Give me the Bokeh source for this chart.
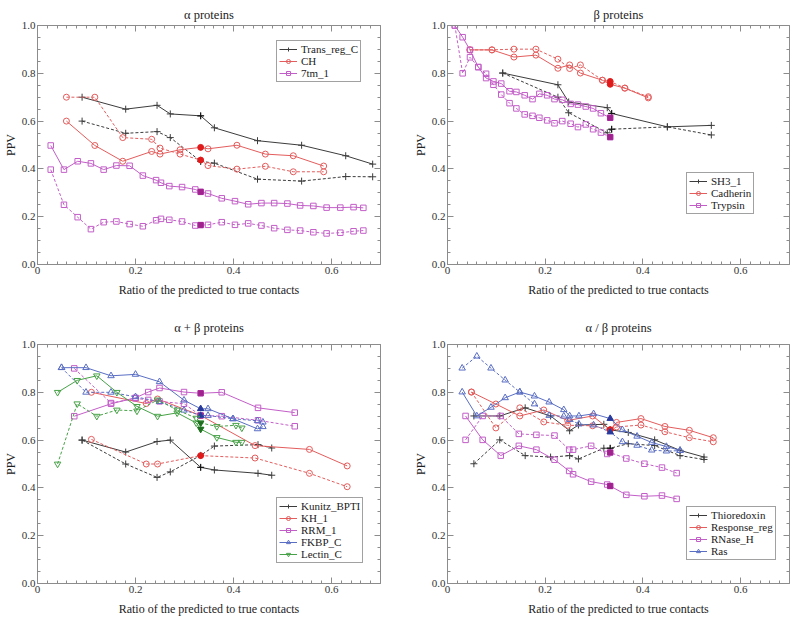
from bokeh.plotting import figure
from bokeh.layouts import column, row
from bokeh.models import Range1d, FixedTicker, LinearAxis, Legend, LegendItem, PrintfTickFormatter
from bokeh.embed import file_html
from bokeh.resources import INLINE

# ---------------- data ----------------
# alpha proteins
trans_x = [0.091, 0.180, 0.244, 0.271, 0.333, 0.361, 0.449, 0.539, 0.629, 0.684]
trans_solid = [0.700, 0.650, 0.666, 0.630, 0.622, 0.572, 0.518, 0.499, 0.455, 0.420]
trans_dash = [0.600, 0.549, 0.556, 0.531, 0.432, 0.424, 0.357, 0.349, 0.368, 0.367]

ch_x = [0.059, 0.117, 0.174, 0.233, 0.250, 0.291, 0.333, 0.348, 0.407, 0.465, 0.522, 0.584]
ch_solid = [0.600, 0.498, 0.432, 0.473, 0.462, 0.480, 0.490, 0.484, 0.499, 0.462, 0.455, 0.412]
ch_dash = [0.700, 0.700, 0.531, 0.524, 0.487, 0.462, 0.437, 0.414, 0.399, 0.411, 0.388, 0.388]

tm7_x = [0.027, 0.054, 0.082, 0.109, 0.135, 0.161, 0.188, 0.215, 0.242, 0.252, 0.269, 0.295, 0.322, 0.333,
         0.348, 0.376, 0.403, 0.430, 0.457, 0.483, 0.510, 0.536, 0.563, 0.590, 0.618, 0.645, 0.665]
tm7_solid = [0.498, 0.397, 0.432, 0.423, 0.397, 0.414, 0.413, 0.372, 0.353, 0.342, 0.328, 0.324, 0.314, 0.304,
             0.297, 0.277, 0.265, 0.252, 0.257, 0.257, 0.255, 0.247, 0.245, 0.238, 0.238, 0.240, 0.237]
tm7_dash = [0.397, 0.250, 0.198, 0.148, 0.177, 0.180, 0.169, 0.160, 0.185, 0.191, 0.187, 0.180, 0.163, 0.165,
            0.166, 0.177, 0.166, 0.172, 0.163, 0.152, 0.145, 0.142, 0.135, 0.130, 0.133, 0.139, 0.142]

# beta proteins
sh3_x = [0.113, 0.226, 0.248, 0.327, 0.336, 0.450, 0.540]
sh3_solid = [0.801, 0.752, 0.680, 0.656, 0.632, 0.576, 0.582]
sh3_dash = [0.801, 0.700, 0.635, 0.551, 0.566, 0.576, 0.542]

cad_x = [0.046, 0.091, 0.136, 0.181, 0.226, 0.250, 0.272, 0.317, 0.333, 0.363, 0.411]
cad_solid = [0.898, 0.898, 0.868, 0.876, 0.821, 0.835, 0.801, 0.771, 0.754, 0.738, 0.697]
cad_dash = [0.898, 0.898, 0.901, 0.901, 0.859, 0.820, 0.835, 0.771, 0.766, 0.738, 0.702]

tryp_x = [0.015, 0.031, 0.046, 0.063, 0.079, 0.094, 0.110, 0.127, 0.141, 0.158, 0.174, 0.188, 0.204, 0.219,
          0.235, 0.252, 0.267, 0.283, 0.298, 0.314, 0.333]
tryp_solid = [1.000, 0.951, 0.898, 0.826, 0.780, 0.766, 0.757, 0.725, 0.722, 0.708, 0.692, 0.714, 0.708, 0.692,
              0.689, 0.672, 0.669, 0.661, 0.653, 0.633, 0.614]
tryp_dash = [1.000, 0.800, 0.867, 0.826, 0.798, 0.752, 0.711, 0.675, 0.653, 0.628, 0.622, 0.614, 0.603, 0.591,
             0.600, 0.589, 0.575, 0.586, 0.566, 0.552, 0.533]

# alpha + beta proteins
kun_x = [0.091, 0.180, 0.244, 0.271, 0.333, 0.361, 0.450, 0.478]
kun_solid = [0.600, 0.550, 0.594, 0.600, 0.486, 0.475, 0.461, 0.453]
kun_dash = [0.600, 0.500, 0.444, 0.467, 0.536, 0.575, 0.581, 0.567]

kh_x = [0.110, 0.222, 0.245, 0.333, 0.444, 0.555, 0.632]
kh_solid = [0.800, 0.753, 0.772, 0.703, 0.577, 0.561, 0.492]
kh_dash = [0.603, 0.500, 0.500, 0.535, 0.525, 0.461, 0.405]

rrm_x = [0.075, 0.150, 0.200, 0.226, 0.249, 0.299, 0.333, 0.376, 0.450, 0.525]
rrm_solid = [0.700, 0.752, 0.777, 0.801, 0.818, 0.801, 0.796, 0.800, 0.735, 0.715]
rrm_dash = [0.900, 0.755, 0.775, 0.768, 0.762, 0.752, 0.703, 0.700, 0.683, 0.658]

fkbp_x = [0.049, 0.099, 0.150, 0.200, 0.249, 0.299, 0.333, 0.348, 0.399, 0.449, 0.460]
fkbp_solid = [0.903, 0.903, 0.869, 0.875, 0.844, 0.767, 0.731, 0.731, 0.689, 0.647, 0.656]
fkbp_dash = [0.903, 0.800, 0.800, 0.781, 0.761, 0.725, 0.703, 0.703, 0.689, 0.681, 0.675]

lec_x = [0.041, 0.081, 0.121, 0.162, 0.203, 0.245, 0.285, 0.324, 0.333, 0.366, 0.405, 0.417]
lec_solid = [0.800, 0.850, 0.869, 0.800, 0.741, 0.700, 0.714, 0.672, 0.646, 0.611, 0.591, 0.591]
lec_dash = [0.500, 0.752, 0.700, 0.726, 0.722, 0.768, 0.726, 0.692, 0.672, 0.657, 0.662, 0.651]

# alpha / beta proteins
thio_x = [0.054, 0.107, 0.159, 0.211, 0.250, 0.268, 0.320, 0.333, 0.370, 0.424, 0.476, 0.525]
thio_solid = [0.701, 0.701, 0.735, 0.701, 0.639, 0.663, 0.666, 0.643, 0.632, 0.601, 0.557, 0.529]
thio_dash = [0.501, 0.601, 0.535, 0.529, 0.535, 0.521, 0.566, 0.566, 0.585, 0.577, 0.535, 0.519]

resp_x = [0.049, 0.099, 0.148, 0.197, 0.246, 0.297, 0.333, 0.346, 0.396, 0.445, 0.495, 0.544]
resp_solid = [0.801, 0.751, 0.701, 0.726, 0.682, 0.701, 0.643, 0.674, 0.690, 0.657, 0.641, 0.610]
resp_dash = [0.801, 0.651, 0.735, 0.676, 0.662, 0.660, 0.643, 0.655, 0.663, 0.635, 0.610, 0.593]

rnase_x = [0.037, 0.072, 0.109, 0.146, 0.182, 0.219, 0.249, 0.257, 0.294, 0.327, 0.333, 0.366, 0.403, 0.439, 0.469]
rnase_solid = [0.701, 0.601, 0.535, 0.576, 0.560, 0.518, 0.471, 0.457, 0.426, 0.414, 0.408, 0.371, 0.365, 0.368, 0.354]
rnase_dash = [0.601, 0.701, 0.701, 0.626, 0.622, 0.619, 0.560, 0.560, 0.576, 0.542, 0.548, 0.523, 0.501, 0.485, 0.462]

ras_x = [0.030, 0.060, 0.089, 0.118, 0.148, 0.178, 0.208, 0.238, 0.250, 0.269, 0.299, 0.333, 0.358, 0.388, 0.418,
         0.448, 0.476]
ras_solid = [0.801, 0.701, 0.737, 0.777, 0.801, 0.784, 0.759, 0.727, 0.701, 0.701, 0.710, 0.690, 0.643, 0.616, 0.590,
             0.573, 0.557]
ras_dash = [0.901, 0.951, 0.901, 0.851, 0.801, 0.751, 0.703, 0.700, 0.686, 0.667, 0.663, 0.634, 0.593, 0.578, 0.558,
            0.554, 0.556]

x_major = [0, 0.2, 0.4, 0.6]
x_labels = {0: "0", 0.2: "0.2", 0.4: "0.4", 0.6: "0.6"}
y_major = [0.0, 0.2, 0.4, 0.6, 0.8, 1.0]
x_title = "Ratio of the predicted to true contacts"
y_title = "PPV"

# ---------------- style ----------------
FONT = "Liberation Serif"
LINE = {"black": "#3c3c3c", "red": "#e45c5c", "magenta": "#c35ec8", "blue": "#5a6ec4", "green": "#47a247"}
FILL = {"black": "#111111", "red": "#e01a1a", "magenta": "#a0228e", "blue": "#28399c", "green": "#1f6e1f"}
MSIZE = {"cross": 7, "circle": 6, "square": 5.5, "triangle": 6.5, "inverted_triangle": 6.5}
AXC = "#8c8c8c"

x_minor = [round(i * 0.02, 2) for i in range(36)]
y_minor = [round(i * 0.05, 2) for i in range(21)]


def style_axis(ax, show_labels, label_gap=1):
    ax.axis_line_color = AXC
    ax.major_tick_line_color = AXC
    ax.minor_tick_line_color = AXC
    ax.major_tick_in = 6
    ax.major_tick_out = 0
    ax.minor_tick_in = 3
    ax.minor_tick_out = 0
    ax.major_label_text_font = FONT
    ax.major_label_text_color = "#333333"
    ax.axis_label_text_font = FONT
    ax.axis_label_text_font_style = "normal"
    ax.axis_label_text_color = "#222222"
    ax.axis_label_text_font_size = "12px"
    if show_labels:
        ax.major_label_text_font_size = "11px"
        ax.major_label_standoff = 2
        ax.axis_label_standoff = label_gap
    else:
        ax.major_label_text_font_size = "1px"
        ax.major_label_text_color = None
        ax.major_label_standoff = 0


def make_panel(title, series, fw, fh, bl, br, bt, bb, title_gap, legend_xy):
    p = figure(frame_width=fw, frame_height=fh, x_range=Range1d(0, 0.7), y_range=Range1d(0, 1.0),
               output_backend="svg", toolbar_location=None,
               min_border_left=bl, min_border_right=br, min_border_top=bt, min_border_bottom=bb)
    p.outline_line_color = None
    p.xgrid.visible = False
    p.ygrid.visible = False
    p.title.text = title
    p.title.align = "center"
    p.title.text_font = FONT
    p.title.text_font_style = "normal"
    p.title.text_font_size = "12.5px"
    p.title.text_color = "#222222"
    p.title.standoff = title_gap

    p.xaxis.ticker = FixedTicker(ticks=x_major, minor_ticks=x_minor)
    p.xaxis.major_label_overrides = x_labels
    p.xaxis.axis_label = x_title
    p.yaxis.ticker = FixedTicker(ticks=y_major, minor_ticks=y_minor)
    p.yaxis.formatter = PrintfTickFormatter(format="%.1f")
    p.yaxis.axis_label = y_title
    style_axis(p.xaxis[0], True, 6)
    style_axis(p.yaxis[0], True, 1)

    top = LinearAxis(ticker=FixedTicker(ticks=x_major, minor_ticks=x_minor))
    right = LinearAxis(ticker=FixedTicker(ticks=y_major, minor_ticks=y_minor))
    style_axis(top, False)
    style_axis(right, False)
    p.add_layout(top, "above")
    p.add_layout(right, "right")

    items = []
    for name, color, marker, xs, ys_solid, ys_dash in series:
        lc = LINE[color]
        fc = FILL[color]
        ms = MSIZE[marker]
        r1 = p.line(xs, ys_solid, line_color=lc, line_width=1)
        s1 = p.scatter(xs, ys_solid, marker=marker, size=ms, line_color=lc, fill_color=None, line_width=1)
        p.line(xs, ys_dash, line_color=lc, line_width=1, line_dash="3 2")
        p.scatter(xs, ys_dash, marker=marker, size=ms, line_color=lc, fill_color=None, line_width=1)
        fx, fys, fyd = [], [], []
        for x, a, b in zip(xs, ys_solid, ys_dash):
            if abs(x - 1 / 3) < 0.004:
                fx.append(x)
                fys.append(a)
                fyd.append(b)
        if fx:
            p.scatter(fx + fx, fys + fyd, marker=marker, size=ms - 0.5, line_color=fc, fill_color=fc, line_width=1)
        items.append(LegendItem(label=name, renderers=[r1, s1]))

    lg = Legend(items=items, location=legend_xy)
    lg.label_text_font = FONT
    lg.label_text_font_size = "11px"
    lg.label_text_color = "#222222"
    lg.border_line_color = "#444444"
    lg.border_line_width = 1
    lg.background_fill_color = "white"
    lg.background_fill_alpha = 1
    lg.glyph_width = 18
    lg.glyph_height = 10
    lg.label_height = 10
    lg.label_standoff = 4
    lg.spacing = 0
    lg.padding = 2
    lg.margin = 0
    p.add_layout(lg)
    return p


FH = 239
p1 = make_panel("α proteins", [
    ("Trans_reg_C", "black", "cross", trans_x, trans_solid, trans_dash),
    ("CH", "red", "circle", ch_x, ch_solid, ch_dash),
    ("7tm_1", "magenta", "square", tm7_x, tm7_solid, tm7_dash),
], 343, FH, 20, 30, 25, 40, 8, (239, FH - 17 - 40))

p2 = make_panel("β proteins", [
    ("SH3_1", "black", "cross", sh3_x, sh3_solid, sh3_dash),
    ("Cadherin", "red", "circle", cad_x, cad_solid, cad_dash),
    ("Trypsin", "magenta", "square", tryp_x, tryp_solid, tryp_dash),
], 342, FH, 20, 3, 25, 40, 8, (239, 50))

p3 = make_panel("α + β proteins", [
    ("Kunitz_BPTI", "black", "cross", kun_x, kun_solid, kun_dash),
    ("KH_1", "red", "circle", kh_x, kh_solid, kh_dash),
    ("RRM_1", "magenta", "square", rrm_x, rrm_solid, rrm_dash),
    ("FKBP_C", "blue", "triangle", fkbp_x, fkbp_solid, fkbp_dash),
    ("Lectin_C", "green", "inverted_triangle", lec_x, lec_solid, lec_dash),
], 343, FH, 20, 30, 40, 0, 19, (239, 20))

p4 = make_panel("α / β proteins", [
    ("Thioredoxin", "black", "cross", thio_x, thio_solid, thio_dash),
    ("Response_reg", "red", "circle", resp_x, resp_solid, resp_dash),
    ("RNase_H", "magenta", "square", rnase_x, rnase_solid, rnase_dash),
    ("Ras", "blue", "triangle", ras_x, ras_solid, ras_dash),
], 342, FH, 20, 3, 40, 0, 19, (239, 23))

layout = column(row(p1, p2), row(p3, p4))
open("out.html", "w").write(file_html(layout, INLINE))
